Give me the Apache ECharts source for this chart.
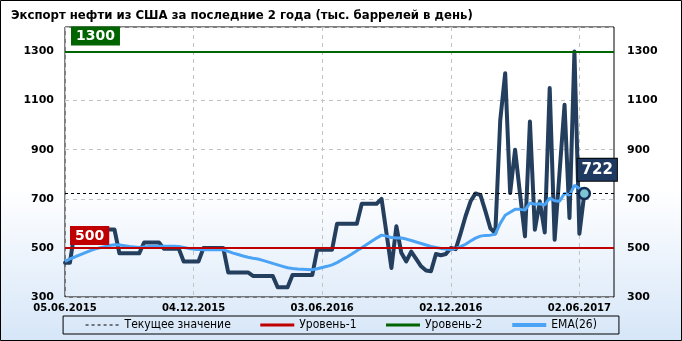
<!DOCTYPE html>
<html><head><meta charset="utf-8">
<script src="https://cdn.jsdelivr.net/npm/echarts@6/dist/echarts.min.js"></script>
<style>html,body{margin:0;padding:0;background:#fff}#c{width:682px;height:341px}</style>
</head><body><div id="c"></div>
<script>
const titleText = 'Экспорт нефти из США за последние 2 года (тыс. баррелей в день)';
const weekCount = 112;
const exportValues = [440,440,
 575,575,575,575,575,575,575,575,575,
 478,478,478,478,478,
 522,522,522,522,
 497,497,497,497,
 445,445,445,445,
 500,500,500,500,500,
 400,400,400,400,400,
 386,386,386,386,386,
 340,340,340,
 390,390,390,390,390,
 493,493,493,493,
 598,598,598,598,598,
 680,680,680,680,
 700,560,418,588,480,445,485,455,425,408,405,475,470,475,500,
 495,560,630,690,722,715,650,580,560,
 1020,1212,724,900,720,547,1015,574,689,563,1151,533,810,1083,622,1300,558,722];
const emaValues = [445,455,463,472,480,488,495,500,505,510,513,512,509,506,504,502,504,506,507,507,
 507,507,507,506,502,498,495,494,493,493,493,493,492,486,479,473,467,462,458,455,
 449,443,437,431,425,419,416,414,413,412,411,415,420,425,431,440,452,463,475,488,
 501,514,527,540,552,548,542,540,540,536,530,524,518,512,506,502,498,495,494,498,
 505,515,528,540,548,551,552,556,600,633,645,657,657,654,683,678,680,675,703,692,
 690,722,715,755,742,740];
const currentValue = 722;
const level1 = 500;
const level2 = 1300;
const yMin = 300, yMax = 1400, yStep = 200;
const dateLabelStep = 26;
const legendNames = ['Текущее значение', 'Уровень-1', 'Уровень-2', 'EMA(26)'];

function pad(n){return n<10?'0'+n:''+n;}
const categories = [];
for (let i=0;i<weekCount;i++){
  const d = new Date(Date.UTC(2015,5,5+7*i));
  categories.push(pad(d.getUTCDate())+'.'+pad(d.getUTCMonth()+1)+'.'+d.getUTCFullYear());
}
const lastIdx = exportValues.length-1;
const F = "'DejaVu Sans', sans-serif";
const FC = "'DejaVu Sans Condensed', 'Liberation Sans Narrow', 'Liberation Sans', sans-serif";
const showDate = (i)=> i % dateLabelStep === 0;

const chart = echarts.init(document.getElementById('c'));
const yAxisBase = {
  type:'value', min:yMin, max:yMax, interval:yStep,
  axisLine:{show:false}, axisTick:{show:false},
  axisLabel:{showMaxLabel:false, formatter:(v)=>String(v), color:'#000', fontWeight:'bold', fontSize:11, fontFamily:F}
};
const noSym = {opacity:0, color:'transparent', borderWidth:0};
chart.setOption({
  animation:false,
  backgroundColor:{type:'linear',x:0,y:0,x2:0,y2:1,colorStops:[
    {offset:0,color:'#ffffff'},{offset:0.55,color:'#ffffff'},{offset:1,color:'#d6e6f8'}]},
  title:{text:titleText,left:6,top:4,textStyle:{fontFamily:FC,fontWeight:'bold',fontSize:13,color:'#000'}},
  graphic:[{type:'rect',shape:{x:0.5,y:0.5,width:681,height:340},style:{fill:'none',stroke:'#000',lineWidth:1},silent:true}],
  grid:{left:65,right:68,top:27,bottom:44,show:true,borderColor:'#000',borderWidth:1,backgroundColor:'transparent'},
  legend:{
    bottom:7,left:'center',padding:[3,22],itemGap:28,itemWidth:34,itemHeight:10,
    borderColor:'#000',borderWidth:1,
    textStyle:{fontFamily:FC,fontSize:12,color:'#000'},
    data:[
      {name:legendNames[0],itemStyle:noSym,lineStyle:{color:'#000',width:1,type:[3,3]}},
      {name:legendNames[1],itemStyle:noSym,lineStyle:{color:'#c00000',width:3}},
      {name:legendNames[2],itemStyle:noSym,lineStyle:{color:'#006400',width:3}},
      {name:legendNames[3],itemStyle:noSym,lineStyle:{color:'#4aa3f5',width:4}}
    ]
  },
  xAxis:{
    type:'category',data:categories,boundaryGap:false,
    axisLine:{show:false},axisTick:{show:false},
    axisLabel:{interval:(i)=>showDate(i),margin:6,color:'#000',fontWeight:'bold',fontSize:10,fontFamily:F},
    splitLine:{show:true,interval:(i)=>showDate(i),lineStyle:{type:[4,4],color:'#c4c4c4'}}
  },
  yAxis:[
    Object.assign({},yAxisBase,{position:'left',axisLabel:Object.assign({},yAxisBase.axisLabel,{margin:11}),
      splitLine:{show:true,lineStyle:{type:[4,4],color:'#c4c4c4'}}}),
    Object.assign({},yAxisBase,{position:'right',axisLabel:Object.assign({},yAxisBase.axisLabel,{margin:13}),
      splitLine:{show:false}})
  ],
  series:[
    {name:legendNames[0],type:'line',data:[],symbol:'none',z:1,
     lineStyle:{color:'#000',width:1,type:[3,3]},itemStyle:{color:'#000'},
     markLine:{silent:true,symbol:['none','none'],lineStyle:{color:'#000',width:1,type:[3,3]},
       label:{show:false},data:[{yAxis:currentValue}]}},
    {name:legendNames[1],type:'line',data:[],symbol:'none',z:1,
     lineStyle:{color:'#c00000',width:2},itemStyle:{color:'#c00000'},
     markLine:{silent:true,symbol:['none','none'],lineStyle:{color:'#c00000',width:2,type:'solid'},
       label:{show:true,position:'insideStartTop',distance:[5,3],formatter:String(level1),
         backgroundColor:'#c00000',color:'#fff',fontWeight:'bold',fontSize:14,fontFamily:F,padding:[3,5,2,5]},
       data:[{yAxis:level1}]}},
    {name:legendNames[2],type:'line',data:[],symbol:'none',z:1,
     lineStyle:{color:'#006400',width:2},itemStyle:{color:'#006400'},
     markLine:{silent:true,symbol:['none','none'],lineStyle:{color:'#006400',width:2,type:'solid'},
       label:{show:true,position:'insideStartTop',distance:[6,6],formatter:String(level2),
         backgroundColor:'#006400',color:'#fff',fontWeight:'bold',fontSize:14,fontFamily:F,padding:[3,5,2,5]},
       data:[{yAxis:level2}]}},
    {name:'Экспорт',type:'line',data:exportValues,symbol:'none',z:2,
     lineStyle:{color:'#243e5e',width:4,join:'round',cap:'round'},itemStyle:{color:'#243e5e'}},
    {name:legendNames[3],type:'line',data:emaValues,symbol:'none',z:3,
     lineStyle:{color:'#4aa3f5',width:3},itemStyle:{color:'#4aa3f5'},
     markPoint:{silent:true,symbol:'circle',symbolSize:11,
       itemStyle:{color:'#7cc3d3',borderColor:'#132c55',borderWidth:2.5},
       label:{show:true,position:[0,-28],formatter:'{c}',backgroundColor:'#1f3a60',color:'#fff',
         fontWeight:'bold',fontSize:15,fontFamily:F,padding:[4,4,3,4],borderColor:'#000',borderWidth:1},
       data:[{coord:[categories[lastIdx],exportValues[lastIdx]],value:exportValues[lastIdx]}]}}
  ]
});
</script></body></html>
